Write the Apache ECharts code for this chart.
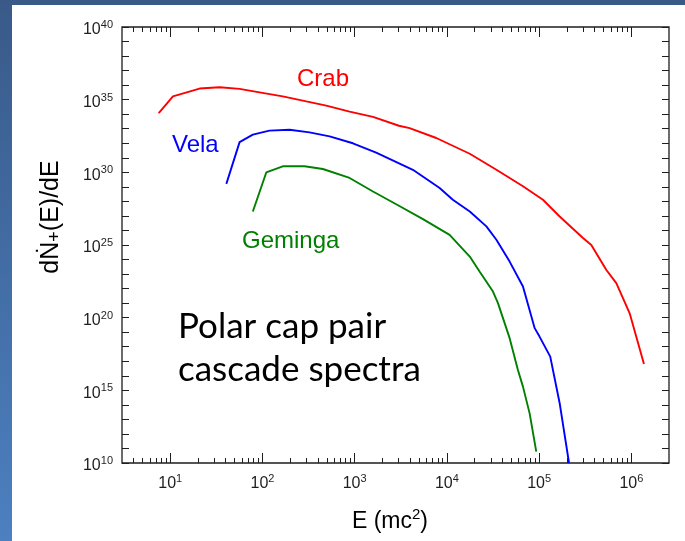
<!DOCTYPE html>
<html>
<head>
<meta charset="utf-8">
<script src="https://cdn.jsdelivr.net/npm/echarts@6/dist/echarts.min.js"></script>
<style>
  html, body { margin: 0; padding: 0; background: #fff; }
  #chart { width: 685px; height: 541px; }
</style>
</head>
<body>
<div id="chart"></div>
<script>
// Polar cap pair cascade spectra: dN/dE against E (in units of mc^2)
const crabE = [7.5, 10.7, 20.8, 34.3, 56.5, 93, 166, 299, 492, 881, 1580, 3020, 3940, 7670,
  17700, 34400, 66800, 110000, 167000, 299000, 368000, 536000, 687000, 959000, 1370000];
const crabN = [1.2e34, 1.7e35, 5.8e35, 7.1e35, 5.5e35, 3.2e35, 1.7e35, 7.6e34, 3.9e34, 1.5e34,
  6.5e33, 1.6e33, 1.1e33, 2.3e32, 1.9e31, 1.5e30, 1.1e29, 1.3e28, 9.1e26, 3.0e25, 1.0e25,
  1.9e23, 2.4e22, 2.0e20, 6.6e16];

const velaE = [40.6, 56.5, 78.7, 119, 197, 324, 535, 957, 1710, 4280, 8340, 11600, 17700,
  26800, 34400, 47900, 66800, 89500, 101000, 132000, 167000, 211000];
const velaN = [1.6e29, 1.2e32, 3.9e32, 7.4e32, 8.5e32, 5.6e32, 3.0e32, 1.0e32, 2.3e31, 1.5e30,
  8.3e28, 1.3e28, 2.0e27, 1.9e26, 2.3e25, 7.2e23, 1.4e22, 1.9e19, 5.0e18, 2.1e17, 1.3e14, 1.0e10];

const gemingaE = [78.7, 110, 166, 286, 452, 881, 1580, 3020, 5500, 10700, 17700, 22600, 31600,
  35800, 47900, 58900, 66800, 78900, 93100];
const gemingaN = [2.0e27, 9.8e29, 2.6e30, 2.6e30, 1.7e30, 4.1e29, 4.8e28, 5.0e27, 6.0e26, 5.0e25,
  1.6e24, 1.5e23, 6.3e21, 1.0e21, 3.9e18, 2.5e16, 1.8e15, 2.6e13, 6.0e10];

// axis ranges and tick labels (powers of ten)
const xRange = [3, 2.56e6];
const yRange = [1e10, 1e40];
const xLabelExp = [1, 2, 3, 4, 5, 6];
const yLabelExp = [10, 15, 20, 25, 30, 35, 40];

const log10 = Math.log10;
const xExt = [log10(xRange[0]), log10(xRange[1])];
const yExt = [log10(yRange[0]), log10(yRange[1])];

// minor ticks: 2..9 x 10^n inside the range, none above 10^6
const xMinor = [];
for (let n = 0; n <= 5; n++) {
  for (let k = 2; k <= 9; k++) {
    const v = k * Math.pow(10, n);
    if (v > xRange[0] && v < 1e6) xMinor.push(log10(v));
  }
}
const yDecades = [];
for (let e = yLabelExp[0]; e <= yLabelExp[yLabelExp.length - 1]; e++) yDecades.push(e);

const FONT = '"Liberation Sans", Arial, sans-serif';
const INK = '#1e1e1e';

const powRich = {
  b: { fontFamily: FONT, fontSize: 16, lineHeight: 16, color: INK },
  s: { fontFamily: FONT, fontSize: 11, lineHeight: 16, color: INK, padding: [0, 0, 10, 0] }
};
const powFormatter = v => '{b|10}{s|' + Math.round(v) + '}';

const tickStyle = { color: INK, width: 1 };

function decoX(position, values, length, withLabels) {
  return {
    type: 'value', min: xExt[0], max: xExt[1], position: position,
    axisLine: { show: false }, splitLine: { show: false },
    axisTick: { show: true, inside: true, length: length, customValues: values, lineStyle: tickStyle },
    axisLabel: withLabels
      ? { show: true, customValues: xLabelExp, margin: 13, formatter: powFormatter, rich: powRich }
      : { show: false }
  };
}
function decoY(position, withLabels) {
  return {
    type: 'value', min: yExt[0], max: yExt[1], position: position,
    axisLine: { show: false }, splitLine: { show: false },
    axisTick: { show: true, inside: true, length: 7, customValues: yDecades, lineStyle: tickStyle },
    axisLabel: withLabels
      ? { show: true, customValues: yLabelExp, margin: 9, formatter: powFormatter, rich: powRich,
          padding: [6, 0, 0, 0] }
      : { show: false }
  };
}

function pairs(xs, ys) { return xs.map((x, i) => [x, ys[i]]); }
function curve(name, color, xs, ys) {
  return {
    name: name, type: 'line', xAxisIndex: 0, yAxisIndex: 0,
    data: pairs(xs, ys), showSymbol: false, symbol: 'none', smooth: false,
    lineStyle: { color: color, width: 1.9 }, silent: true, z: 5
  };
}

const chart = echarts.init(document.getElementById('chart'), null, { renderer: 'canvas' });

chart.setOption({
  animation: false,
  grid: {
    left: 122, right: 16, top: 27, bottom: 78,
    show: true, borderColor: INK, borderWidth: 1.3, backgroundColor: 'transparent'
  },
  xAxis: [
    { type: 'log', logBase: 10, min: xRange[0], max: xRange[1], show: false },
    decoX('bottom', xLabelExp, 10, true),
    decoX('bottom', xMinor, 5, false),
    decoX('top', xLabelExp, 10, false),
    decoX('top', xMinor, 5, false)
  ],
  yAxis: [
    { type: 'log', logBase: 10, min: yRange[0], max: yRange[1], show: false },
    decoY('left', true),
    decoY('right', false)
  ],
  series: [
    curve('Crab', '#ff0000', crabE, crabN),
    curve('Vela', '#0000ff', velaE, velaN),
    curve('Geminga', '#008000', gemingaE, gemingaN)
  ],
  graphic: {
    elements: [
      {
        type: 'rect', silent: true, z: -100,
        shape: { x: 0, y: 0, width: 685, height: 541 },
        style: { fill: new echarts.graphic.LinearGradient(0, 0, 0, 1, [
          { offset: 0, color: '#395a89' }, { offset: 1, color: '#4c80c0' }
        ]) }
      },
      {
        type: 'rect', silent: true, z: -99,
        shape: { x: 12, y: 5, width: 673, height: 536 },
        style: { fill: '#ffffff' }
      },
      {
        type: 'text', x: 297, y: 79, z: 10,
        style: { text: 'Crab', fill: '#ff0000', fontFamily: FONT, fontSize: 24, textVerticalAlign: 'middle' }
      },
      {
        type: 'text', x: 172, y: 145, z: 10,
        style: { text: 'Vela', fill: '#0000ff', fontFamily: FONT, fontSize: 24, textVerticalAlign: 'middle' }
      },
      {
        type: 'text', x: 242, y: 241, z: 10,
        style: { text: 'Geminga', fill: '#008000', fontFamily: FONT, fontSize: 24, textVerticalAlign: 'middle' }
      },
      {
        type: 'text', x: 178, y: 327, z: 10,
        style: { text: 'Polar cap pair', fill: '#000', fontFamily: 'Lato', fontSize: 35, textVerticalAlign: 'middle' }
      },
      {
        type: 'text', x: 178, y: 370, z: 10,
        style: { text: 'cascade spectra', fill: '#000', fontFamily: 'Lato', fontSize: 35, textVerticalAlign: 'middle' }
      },
      {
        // y-axis title: dN(dot)+(E)/dE, read bottom to top
        type: 'text', x: 51, y: 217, rotation: Math.PI / 2, z: 10,
        style: {
          text: '{a|dṄ}{p|+}{a|(E)/dE}',
          textAlign: 'center', textVerticalAlign: 'middle',
          rich: {
            a: { fontFamily: FONT, fontSize: 25, lineHeight: 25, color: INK },
            p: { fontFamily: FONT, fontSize: 18, lineHeight: 25, color: INK, padding: [8, 0, 0, 0] }
          }
        }
      },
      {
        // x-axis title: E (mc^2)
        type: 'text', x: 390, y: 522, z: 10,
        style: {
          text: '{a|E (mc}{s|2}{a|)}',
          textAlign: 'center', textVerticalAlign: 'middle',
          rich: {
            a: { fontFamily: FONT, fontSize: 23, lineHeight: 23, color: INK },
            s: { fontFamily: FONT, fontSize: 15, lineHeight: 23, color: INK, padding: [0, 0, 14, 0] }
          }
        }
      }
    ]
  }
});
</script>
</body>
</html>
